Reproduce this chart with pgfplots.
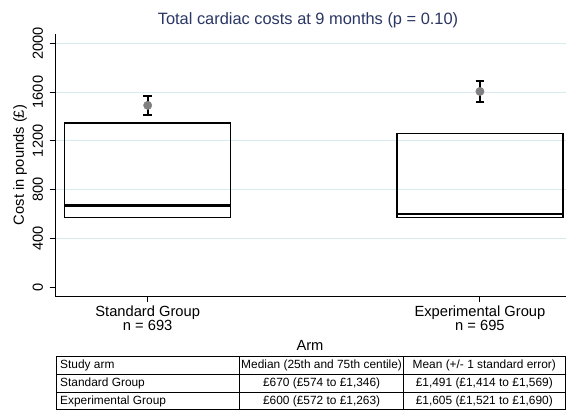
\documentclass[border=0pt]{standalone}
\usepackage{fontspec}
\setmainfont{Liberation Sans}
\usepackage{pgfplots}
\pgfplotsset{compat=1.18}
\definecolor{gridc}{RGB}{216,234,238}
\definecolor{titlec}{RGB}{42,54,100}
\definecolor{meanc}{RGB}{128,128,128}
\begin{document}
\begin{tikzpicture}[x=1pt,y=1pt]
\begin{axis}[
 at={(55pt,114.3pt)}, anchor=south west,
 scale only axis, width=511pt, height=262.7pt,
 xmin=0.721, xmax=2.259, ymin=-77, ymax=2076,
 axis lines*=left,
 axis line style={line width=0.9pt, black},
 tick align=outside, major tick length=5.5pt,
 tick style={line width=0.9pt, black},
 xtick={1,2},
 xticklabels={{Standard Group\\n = 693},{Experimental Group\\n = 695}},
 xticklabel style={align=center, font=\fontsize{14.7}{14.5}\selectfont},
 ytick={400,800,1200,1600,2000},
 extra y ticks={0}, extra y tick style={grid=none},
 ymajorgrids, grid style={gridc, line width=0.9pt},
 yticklabel style={rotate=90, anchor=south, yshift=3pt, font=\fontsize{14.6}{16}\selectfont},
 /pgf/number format/assume math mode=true,
 /pgf/number format/1000 sep={},
 clip=false,
]
% interquartile boxes
\addplot[black, line width=1.3pt, line join=miter, mark=none] coordinates {(0.75,574) (1.25,574) (1.25,1346) (0.75,1346)} --cycle;
\addplot[black, line width=1.3pt, line join=miter, mark=none] coordinates {(1.75,572) (2.25,572) (2.25,1263) (1.75,1263)} --cycle;
% medians
\addplot[black, line width=2.2pt, mark=none] coordinates {(0.75,670) (1.25,670)};
\addplot[black, line width=2.0pt, mark=none] coordinates {(1.75,600) (2.25,600)};
% mean +/- 1 SE : vertical bars and caps
\addplot[black, line width=1.7pt, mark=none] coordinates {(1,1414) (1,1569)};
\addplot[black, line width=1.7pt, mark=none] coordinates {(0.987,1414) (1.013,1414)};
\addplot[black, line width=1.7pt, mark=none] coordinates {(0.987,1569) (1.013,1569)};
\addplot[black, line width=1.7pt, mark=none] coordinates {(2,1521) (2,1690)};
\addplot[black, line width=1.7pt, mark=none] coordinates {(1.987,1521) (2.013,1521)};
\addplot[black, line width=1.7pt, mark=none] coordinates {(1.987,1690) (2.013,1690)};
\addplot[only marks, mark=*, mark size=4.2pt, color=meanc, fill=meanc] coordinates {(1,1491) (2,1605)};
\end{axis}
\node[font=\fontsize{16.4}{19}\selectfont, text=titlec] at (308,391) {Total cardiac costs at 9 months (p = 0.10)};
\node[rotate=90, font=\fontsize{14.7}{16}\selectfont] at (20,246) {Cost in pounds (£)};
\node[anchor=base, font=\fontsize{14.7}{16}\selectfont] at (310,60.5) {Arm};
% table
\draw[line width=0.9pt] (56,1.5) rectangle (565,55);
\draw[line width=0.9pt] (56,36.5) -- (565,36.5) (56,19) -- (565,19) (239.6,1.5) -- (239.6,55) (403.6,1.5) -- (403.6,55);
\begin{scope}[every node/.style={font=\fontsize{11.9}{13}\selectfont, text height=0.72em, text depth=0.21em, inner sep=0pt}]
\node[anchor=west] at (60,45.5) {Study arm};
\node[anchor=west] at (60,27) {Standard Group};
\node[anchor=west] at (60,9.5) {Experimental Group};
\node at (321.6,45.5) {Median (25th and 75th centile)};
\node at (321.6,27) {£670 (£574 to £1,346)};
\node at (321.6,9.5) {£600 (£572 to £1,263)};
\node at (484.3,45.5) {Mean (+/- 1 standard error)};
\node at (484.3,27) {£1,491 (£1,414 to £1,569)};
\node at (484.3,9.5) {£1,605 (£1,521 to £1,690)};
\end{scope}
\pgfresetboundingbox
\path (0,0) rectangle (566,411);
\end{tikzpicture}
\end{document}
